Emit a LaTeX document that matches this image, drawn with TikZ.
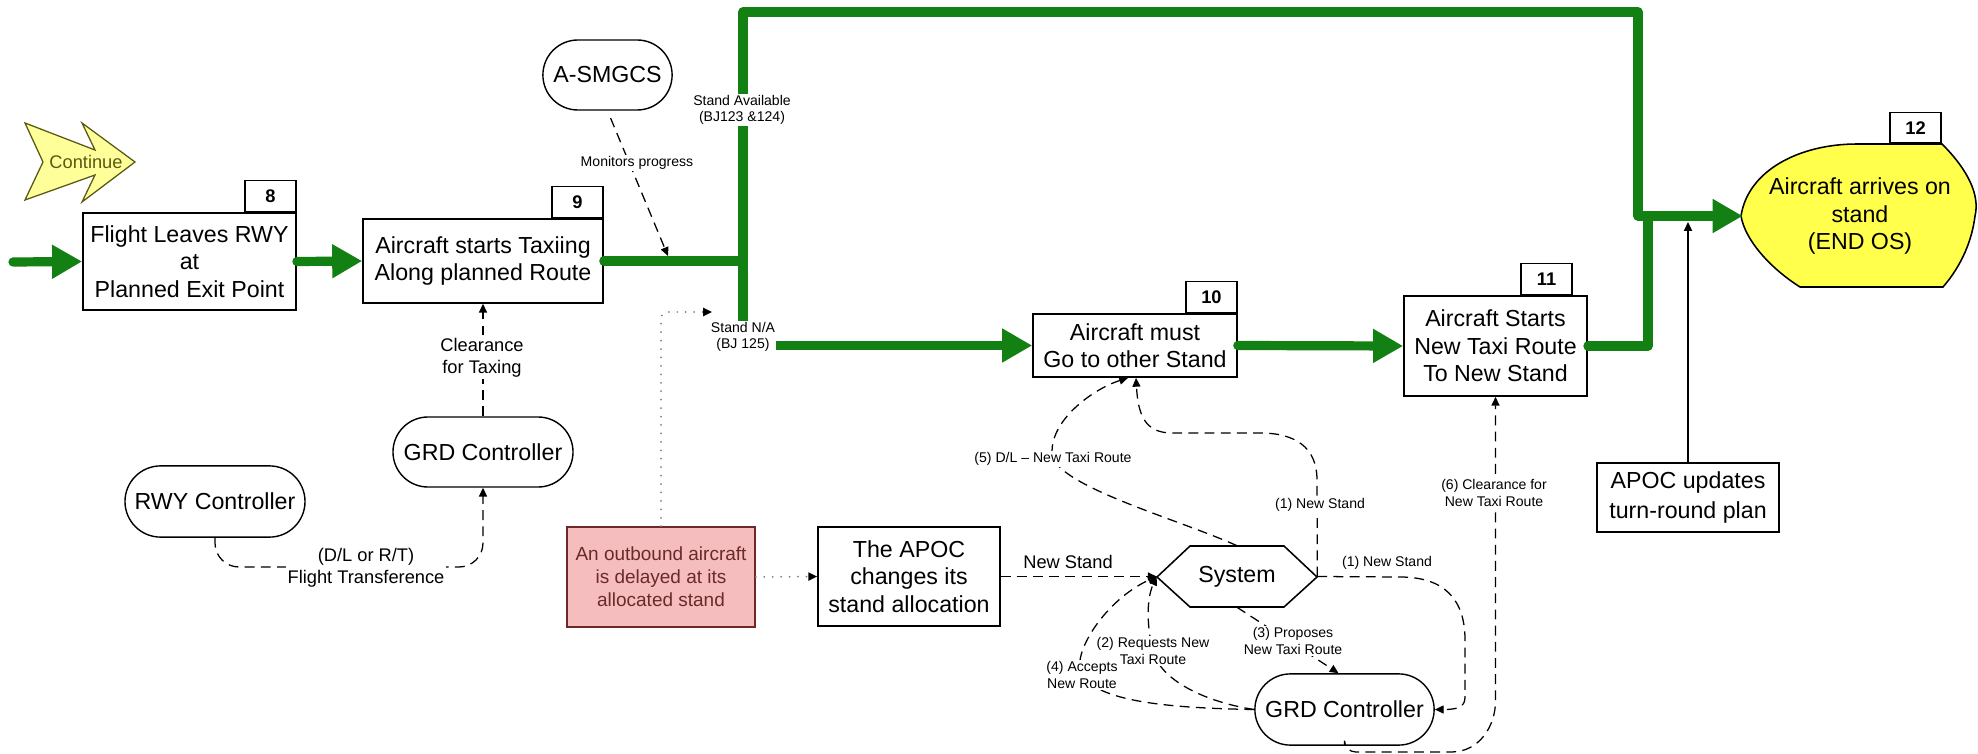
\documentclass[tikz,border=0pt]{standalone}
\usepackage{fontspec}
\setmainfont{Liberation Sans}
\usepackage{xcolor}
\usepackage{tikz}
\usetikzlibrary{arrows.meta, shapes.misc, calc}
\definecolor{flowgreen}{rgb}{0.07, 0.50, 0.07}
\definecolor{paleyellow}{rgb}{1.0, 1.0, 0.6}
\definecolor{endyellow}{rgb}{1.0, 1.0, 0.3}
\definecolor{delaypink}{rgb}{0.96, 0.74, 0.74}
\definecolor{delayred}{rgb}{0.42, 0.16, 0.16}
\definecolor{oliveline}{rgb}{0.35, 0.35, 0.08}

\begin{document}
\begin{tikzpicture}[x=0.025cm, y=-0.025cm,
    bigtext/.style={font=\fontsize{16.5}{19.5}\selectfont},
    midtext/.style={font=\fontsize{13}{15.6}\selectfont},
    smalltext/.style={font=\fontsize{10}{11.8}\selectfont},
    stepbox/.style={draw, line width=1.1pt, fill=white, align=center, inner sep=0pt, bigtext},
    tagbox/.style={draw, line width=1.1pt, fill=white, inner sep=0pt, anchor=south east, minimum width=1.28cm, minimum height=0.77cm, font=\fontsize{13}{15}\selectfont\bfseries},
    actor/.style={draw, line width=1pt, rounded rectangle, fill=white, align=center, inner sep=0pt, bigtext},
    flowline/.style={draw=flowgreen, line width=0.23cm, line cap=round, line join=round},
    flow/.style={flowline, -{Triangle[length=0.75cm, width=0.8cm]}},
    msg/.style={draw, line width=0.9pt, dash pattern=on 7pt off 4.5pt, -{Triangle[length=0.22cm, width=0.2cm]}},
    dotmsg/.style={draw=gray, line width=1.4pt, line cap=round, dash pattern=on 0pt off 6pt, -{Triangle[length=0.22cm, width=0.2cm, color=black]}},
    note/.style={fill=white, inner sep=1pt, align=center, smalltext},
    midnote/.style={fill=white, inner sep=1pt, align=center, midtext}]
\pgfmathsetmacro{\hexin}{33}
\fill[white] (0,0) rectangle (1978,754);
\useasboundingbox (0,0) rectangle (1978,754);

%% continue marker
\draw[draw=oliveline, fill=paleyellow, line width=0.9pt] (25,123) -- (95,150) -- (82,123) -- (135,162) -- (82,202) -- (95,175) -- (25,200) -- (43,162) -- cycle;
\node[midtext, text=oliveline] (cont) at (86,162) {Continue};

%% steps
\node[stepbox, minimum width=5.33cm, minimum height=2.43cm] (box8) at (189.5,261.5) {Flight Leaves RWY\\at\\Planned Exit Point};
\node[stepbox, minimum width=6cm, minimum height=2.1cm] (box9) at (483,261) {Aircraft starts Taxiing\\Along planned Route};
\node[stepbox, minimum width=5.1cm, minimum height=1.58cm] (box10) at (1135,345.5) {Aircraft must\\Go to other Stand};
\node[stepbox, minimum width=4.58cm, minimum height=2.5cm] (box11) at (1495.5,346) {Aircraft Starts\\New Taxi Route\\To New Stand};
\node[tagbox] (tag8) at (box8.north east) {8};
\node[tagbox] (tag9) at (box9.north east) {9};
\node[tagbox] (tag10) at (box10.north east) {10};
\node[tagbox] (tag11) at ($(box11.north east)+(-15,0)$) {11};

\draw[line width=1.1pt, fill=endyellow] (1857,144) -- (1942,144) .. controls (1968,170) and (1980,195) .. (1975,216) .. controls (1972,240) and (1962,265) .. (1943,287) -- (1800,287) .. controls (1770,268) and (1745,240) .. (1741,216) .. controls (1748,170) and (1800,144) .. (1857,144) -- cycle;
\node[bigtext, align=center, minimum width=5.85cm, minimum height=3.58cm, inner sep=0pt] (box12) at (1860,216) {Aircraft arrives on\\stand\\(END OS)};
\node[tagbox] (tag12) at (1942,144) {12};

\node[stepbox, fill=delaypink, draw=delayred, text=delayred, minimum width=4.7cm, minimum height=2.5cm, font=\fontsize{13.5}{16.3}\selectfont] (delay) at (661,577) {An outbound aircraft\\is delayed at its\\allocated stand};
\node[stepbox, minimum width=4.55cm, minimum height=2.48cm] (apocchg) at (909,576.5) {The APOC\\changes its\\stand allocation};
\node[stepbox, minimum width=4.55cm, minimum height=1.73cm, font=\fontsize{16.5}{21}\selectfont] (apocupd) at (1688,497.5) {APOC updates\\turn-round plan};

\draw[line width=1.1pt, fill=white] (1157,577) -- (1157+\hexin,546) -- (1317-\hexin,546) -- (1317,577) -- (1317-\hexin,607) -- (1157+\hexin,607) -- cycle;
\node[bigtext, minimum width=4cm, minimum height=1.525cm, inner sep=0pt] (system) at (1237,576.5) {System};

%% actors
\node[actor, minimum width=3.23cm, minimum height=1.75cm] (asmgcs) at (607.5,75) {A-SMGCS};
\node[actor, minimum width=4.5cm, minimum height=1.75cm] (grdup) at (483,452) {GRD Controller};
\node[actor, minimum width=4.5cm, minimum height=1.78cm] (rwyctl) at (215,501.5) {RWY Controller};
\node[actor, minimum width=4.48cm, minimum height=1.78cm] (grdlow) at (1344.5,709.5) {GRD Controller};

\coordinate (inflow) at (13,262);
\coordinate (jn) at (743,261);
\coordinate (mon) at (668,256);
\coordinate (dotend) at (712,312);
\coordinate (upd) at (1688,222);

%% taxi flow
\draw[flow] (inflow) -- (box8.west);
\draw[flow] (box8.east) -- (box9.west);
\draw[flowline] (box9.east) -- (jn);
\draw[flow] (jn) |- (1638,12) |- (box12.west);
\draw[flow] (jn) |- (box10.west);
\draw[flow] (box10.east) -- (box11.west);
\draw[flowline] (box11.east) -| (1648,216);
\node[note] (avail) at (742,110) {Stand Available\\(BJ123 \&124)};
\node[note] (notavail) at (743,337) {Stand N/A\\(BJ 125)};

%% messages
\draw[msg, shorten <=0.2cm] (asmgcs.south) -- (mon);
\node[note] (monlbl) at (637,163) {Monitors progress};
\draw[msg] (grdup.north) -- (box9.south);
\node[midnote] (clrtaxi) at (482,358) {Clearance\\for Taxing};
\draw[msg, rounded corners=0.6cm] (rwyctl.south) |- (400,567) -| (grdup.south);
\node[midnote] (dlrt) at (366,568) {(D/L or R/T)\\Flight Transference};

\draw[dotmsg, rounded corners=4pt] (delay.north) |- (dotend);
\draw[dotmsg] (delay.east) -- (apocchg.west);
\draw[msg] (apocchg.east) -- (system.west);
\node[midtext] (newstand) at (1068,562) {New Stand};

\draw[msg] (system.north) .. controls (1180,520) and (1070,490) .. (1053,459) .. controls (1045,425) and (1090,390) .. ($(box10.south)+(-7,0)$);
\node[note] (dlnew) at (1053,459) {(5) D/L \textendash\ New Taxi Route};
\draw[msg] (system.east) -- (1317,480) .. controls (1317,447) and (1295,433) .. (1260,433) -- (1172,433) .. controls (1145,433) and (1138,415) .. ($(box10.south)+(1,0)$);
\node[note] (newst1) at (1320,505) {(1) New Stand};
\draw[msg] (system.east) -- (1400,577) .. controls (1445,577) and (1465,600) .. (1465,640) -- (1465,697) .. controls (1465,707) and (1458,709.5) .. (grdlow.east);
\node[smalltext] (newst2) at (1387,563) {(1) New Stand};
\draw[msg] (system.south) -- ($(grdlow.north)+(-6,0)$);
\node[note] (propose) at (1293,641) {(3) Proposes\\New Taxi Route};
\draw[msg] (grdlow.west) .. controls (1205,702) and (1160,680) .. (1153,651) .. controls (1147,628) and (1146,600) .. (system.west);
\node[note] (request) at (1153,651) {(2) Requests New\\Taxi Route};
\draw[msg] (grdlow.west) .. controls (1160,708) and (1098,700) .. (1082,675) .. controls (1070,655) and (1105,600) .. (system.west);
\node[note] (accept) at (1082,675) {(4) Accepts\\New Route};
\draw[msg, rounded corners=8pt] (grdlow.south) -- (1344.5,752) -- (1440,752) .. controls (1480,752) and (1495.5,725) .. (1495.5,690) -- (box11.south);
\node[note] (clrnew) at (1494,493) {(6) Clearance for\\New Taxi Route};

\draw[line width=1.1pt, -{Triangle[length=0.22cm, width=0.2cm]}] (apocupd.north) -- (upd);
\end{tikzpicture}
\end{document}
